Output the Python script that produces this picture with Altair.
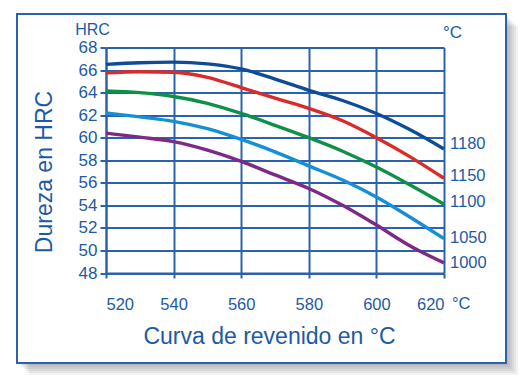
import altair as alt
import pandas as pd

# ---------------- data ----------------
temps = [520, 530, 540, 550, 560, 570, 580, 590, 600, 610, 620]
series_names = ["1180", "1150", "1100", "1050", "1000"]
hrc_1180 = [66.5, 66.65, 66.7, 66.55, 66.1, 65.2, 64.2, 63.3, 62.15, 60.7, 59.0]
hrc_1150 = [65.75, 65.85, 65.8, 65.35, 64.45, 63.5, 62.6, 61.5, 60.0, 58.3, 56.4]
hrc_1100 = [64.15, 64.0, 63.65, 63.05, 62.15, 61.1, 60.0, 58.8, 57.4, 55.8, 54.1]
hrc_1050 = [62.2, 61.85, 61.45, 60.8, 59.85, 58.75, 57.5, 56.25, 54.75, 52.95, 51.05]
hrc_1000 = [60.4, 60.05, 59.65, 58.9, 57.9, 56.7, 55.5, 54.0, 52.25, 50.4, 48.9]
label_hrc = [59.4, 56.6, 54.3, 51.1, 48.9]
x_ticks = [520, 540, 560, 580, 600, 620]
y_ticks = [48, 50, 52, 54, 56, 58, 60, 62, 64, 66, 68]
colors = ["#0d4c97", "#d92b2a", "#0e9146", "#1590d6", "#7d2a86"]

rows = []
for name, vals in zip(series_names, [hrc_1180, hrc_1150, hrc_1100, hrc_1050, hrc_1000]):
    for t, v in zip(temps, vals):
        rows.append({"temp": t, "hrc": v, "serie": name})
df = pd.DataFrame(rows)
lab_df = pd.DataFrame({"temp": [temps[-1]] * len(series_names), "hrc": label_hrc, "serie": series_names})
dummy = pd.DataFrame({"k": [0]})

# ---------------- style ----------------
W, H = 338, 225.5
TXT = "#1d5aa6"
GRID = "#2a62ad"
FONT = "Liberation Sans"

x_scale = alt.Scale(domain=[520, 620], nice=False)
y_scale = alt.Scale(domain=[48, 68], nice=False)
color_scale = alt.Scale(domain=series_names, range=colors)

x_axis = alt.Axis(values=x_ticks, grid=True, gridColor=GRID, gridWidth=2,
                  domainColor=GRID, domainWidth=2, tickColor=GRID, tickWidth=2,
                  tickSize=5, labelFont=FONT, labelFontSize=16.5, labelColor=TXT,
                  labelPadding=18, labelOverlap=False, title=None)
y_axis = alt.Axis(values=y_ticks, grid=True, gridColor=GRID, gridWidth=2,
                  domainColor=GRID, domainWidth=2, tickColor=GRID, tickWidth=2,
                  tickSize=6, labelFont=FONT, labelFontSize=17, labelColor=TXT,
                  labelPadding=3, labelOverlap=False, title=None)

# ---------------- decorations ----------------
layers = []
for d in [2, 4, 6, 8, 10, 12]:
    layers.append(alt.Chart(dummy).mark_rect(color="black", opacity=0.05).encode(
        x=alt.value(-89 + d), x2=alt.value(400 + d),
        y=alt.value(315.5), y2=alt.value(315.5 + d)))
    layers.append(alt.Chart(dummy).mark_rect(color="black", opacity=0.05).encode(
        x=alt.value(400), x2=alt.value(400 + d),
        y=alt.value(-33.5 + d), y2=alt.value(315.5)))
layers.append(alt.Chart(dummy).mark_rect(fillOpacity=0, stroke=GRID, strokeWidth=2).encode(
    x=alt.value(-89), x2=alt.value(400), y=alt.value(-33.5), y2=alt.value(315.5)))

# ---------------- data marks ----------------
lines = alt.Chart(df).mark_line(interpolate="monotone", strokeWidth=3.4).encode(
    x=alt.X("temp:Q", scale=x_scale, axis=x_axis),
    y=alt.Y("hrc:Q", scale=y_scale, axis=y_axis),
    color=alt.Color("serie:N", scale=color_scale, legend=None),
    detail="serie:N",
)
labels = alt.Chart(lab_df).mark_text(align="left", baseline="middle", dx=6,
                                     font=FONT, fontSize=16.5, color=TXT).encode(
    x=alt.X("temp:Q", scale=x_scale, axis=x_axis),
    y=alt.Y("hrc:Q", scale=y_scale, axis=y_axis),
    text="serie:N",
)

def txt(s, x, y, size, align="center", angle=0):
    kw = dict(text=s, align=align, baseline="alphabetic", font=FONT, fontSize=size, color=TXT)
    if angle:
        kw["angle"] = angle
    return alt.Chart(dummy).mark_text(**kw).encode(x=alt.value(x), y=alt.value(y))

layers += [lines, labels,
           txt("Dureza en HRC", -54, 124.5, 23, angle=270),
           txt("Curva de revenido en °C", 163.5, 296, 23),
           txt("HRC", -13.5, -12.5, 16),
           txt("°C", 337, -9.5, 17, align="left"),
           txt("°C", 346, 261.5, 16.5, align="left")]

chart = alt.layer(*layers).properties(
    width=W, height=H,
    autosize=alt.AutoSizeParams(type="none"),
    padding={"left": 106, "top": 47.5, "right": 76, "bottom": 103},
    background="white",
).configure_view(strokeWidth=0)

chart.save("out.html", embed_options={"renderer": "svg", "actions": False})
